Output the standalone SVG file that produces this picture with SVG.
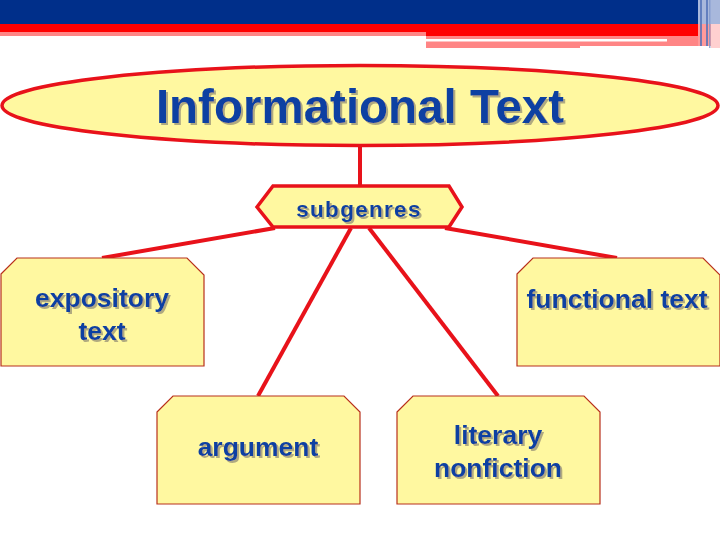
<svg xmlns="http://www.w3.org/2000/svg" width="720" height="540" viewBox="0 0 720 540">
<defs>
<filter id="shadow" x="-10%" y="-20%" width="120%" height="150%">
<feFlood flood-color="#b0aa80" result="c"/>
<feComposite in="c" in2="SourceAlpha" operator="in" result="s"/>
<feOffset in="s" dx="2" dy="2" result="o"/>
<feMerge><feMergeNode in="o"/><feMergeNode in="SourceGraphic"/></feMerge>
</filter>
</defs>
<style>
.lbl{font-family:"Liberation Sans",Arial,sans-serif;font-weight:bold;fill:#0b3fa2;text-anchor:middle;filter:url(#shadow)}
.box{fill:#fff8a0;stroke:#b8301c;stroke-width:1.2}
.bold{fill:#fff8a0;stroke:#e8121a;stroke-width:3.5}
.con{stroke:#e8121a;stroke-width:4;fill:none;stroke-linecap:butt}
</style>
<rect width="720" height="540" fill="#ffffff"/>
<g id="header">
<rect x="0" y="0" width="698" height="24" fill="#002f8a"/>
<rect x="0" y="24" width="698" height="8" fill="#ff0000"/>
<rect x="0" y="32" width="426" height="4" fill="#ff8585"/>
<rect x="426" y="32" width="272" height="4" fill="#ff0000"/>
<rect x="426" y="36" width="282" height="10" fill="#ff8585"/>
<rect x="426" y="39" width="241" height="2.5" fill="#ffffff"/>
<rect x="426" y="46" width="154" height="2" fill="#ff8585"/>
<rect x="698" y="0" width="22" height="24" fill="#a8b8dc"/>
<rect x="698" y="24" width="22" height="22" fill="#ff9a9a"/>
<rect x="711" y="24" width="9" height="24" fill="#ffd0d0"/>
<rect x="700" y="0" width="2" height="46" fill="#5070b8" opacity="0.8"/>
<rect x="706" y="0" width="2" height="46" fill="#5070b8" opacity="0.8"/>
<rect x="709" y="0" width="1.5" height="48" fill="#8098cc" opacity="0.8"/>
</g>
<g id="connectors">
<line class="con" x1="360" y1="146" x2="360" y2="187"/>
<line class="con" x1="275" y1="228" x2="102" y2="258"/>
<line class="con" x1="445" y1="228" x2="617" y2="258"/>
<line class="con" x1="351" y1="228" x2="258" y2="396"/>
<line class="con" x1="369" y1="228" x2="498" y2="396"/>
</g>
<g id="informational-text">
<ellipse class="bold" cx="360" cy="105.5" rx="358" ry="40"/>
<text class="lbl" x="360" y="123" font-size="47.5">Informational Text</text>
</g>
<g id="subgenres">
<polygon class="bold" points="257,207 273,186 449,186 462,207 449,227 273,227"/>
<text class="lbl" x="359" y="217" font-size="22.5" letter-spacing="1.3">subgenres</text>
</g>
<g id="expository-text">
<polygon class="box" points="1,274 17,258 187,258 204,275 204,366 1,366"/>
<text class="lbl" x="102" y="307" font-size="26.5">expository</text>
<text class="lbl" x="102" y="340" font-size="26.5">text</text>
</g>
<g id="functional-text">
<polygon class="box" points="517,274 533,258 703,258 720,275 720,366 517,366"/>
<text class="lbl" x="617" y="308" font-size="26.5">functional text</text>
</g>
<g id="argument">
<polygon class="box" points="157,412 173,396 344,396 360,412 360,504 157,504"/>
<text class="lbl" x="258" y="456" font-size="26.5">argument</text>
</g>
<g id="literary-nonfiction">
<polygon class="box" points="397,412 413,396 584,396 600,412 600,504 397,504"/>
<text class="lbl" x="498" y="444" font-size="26.5">literary</text>
<text class="lbl" x="498" y="477" font-size="26.5">nonfiction</text>
</g>
</svg>
